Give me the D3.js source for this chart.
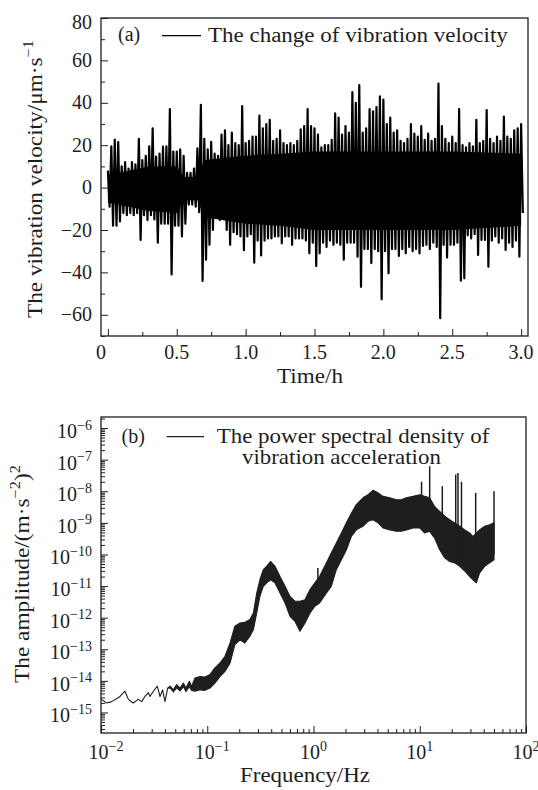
<!DOCTYPE html>
<html>
<head>
<meta charset="utf-8">
<script src="https://cdn.jsdelivr.net/npm/d3@7"></script>
<style>
  body { margin: 0; background: #fff; }
  svg { display: block; }
  text { font-family: "Liberation Serif", "Times New Roman", serif; fill: #1e1e1e; }
</style>
</head>
<body>
<div class="chart"></div>
<script>
// ---- (a) vibration velocity: max / min of the trace in each 0.025 h bin
const velTime = [0,.025,.05,.075,.1,.125,.15,.175,.2,.225,.25,.275,.3,.325,.35,.375,.4,.425,.45,.475,
  .5,.525,.55,.575,.6,.625,.65,.675,.7,.725,.75,.775,.8,.825,.85,.875,.9,.925,.95,.975,
  1,1.025,1.05,1.075,1.1,1.125,1.15,1.175,1.2,1.225,1.25,1.275,1.3,1.325,1.35,1.375,1.4,1.425,1.45,1.475,
  1.5,1.525,1.55,1.575,1.6,1.625,1.65,1.675,1.7,1.725,1.75,1.775,1.8,1.825,1.85,1.875,1.9,1.925,1.95,1.975,
  2,2.025,2.05,2.075,2.1,2.125,2.15,2.175,2.2,2.225,2.25,2.275,2.3,2.325,2.35,2.375,2.4,2.425,2.45,2.475,
  2.5,2.525,2.55,2.575,2.6,2.625,2.65,2.675,2.7,2.725,2.75,2.775,2.8,2.825,2.85,2.875,2.9,2.925,2.95,2.975,3]
const velMax = [8,19.5,22.6,21.5,10,12,9,12,11,23, 13,15,19.5,28,14.6,16,19.3,19.5,37,17,
  17,18,15,7,7,9,18.5,39,23,18, 21.6,16,15,25,27,20,26,21,20,38.5,
  21,22,24,24,34,28,30,32,22,23, 27,21,20,21,20,22,27.5,29,37,29,
  28,25,19,20,20,22.5,35,33,25,29, 26,45,40,48.4,26,28,37,36,38,43,
  41.5,30,33,26,27,22,21,23,30,25.5, 24,29,22.5,25.5,22,23,49,29,23,21,
  24,21,37,20,19,21,19.5,32,21,22, 36.6,23,21,24,22,33.5,24,23,27,28, 30]
const velMin = [-9,-18,-18,-16,-12,-13,-12,-13,-12,-24.7, -13,-15.3,-13,-15,-26,-17,-17,-17,-41,-18,
  -18,-23,-17,-8,-8,-9,-11.6,-44,-34,-27, -20,-14,-15.3,-14,-20,-27,-21,-22,-23,-29.5,
  -23,-22,-35.4,-25,-32,-25,-24,-24,-23,-23, -26.3,-23,-23,-27,-24,-24,-24,-25,-31,-26,
  -37,-31,-26,-28,-25,-27,-26,-27,-34,-26, -26,-26,-32.6,-46.8,-29,-29,-35.6,-29,-30,-52.7,
  -30,-40.4,-29,-29,-32.2,-29,-31,-28,-30,-29, -31,-27.5,-27,-29,-26,-28,-61.6,-27,-33,-27,
  -27,-26,-43.9,-42.8,-22.5,-24,-22,-31.8,-24.7,-24.7, -37.3,-25,-23,-26,-24,-29.4,-26,-28,-25,-32.6, -12]
// extent of the solid black core of the trace
const coreTime = [0, 0.15, 0.3, 0.5, 0.55, 0.65, 0.7, 1.0, 1.25, 1.5, 2.0, 2.5, 3.0]
const coreTop = [6, 8, 10, 10, 5, 5, 13, 15, 16, 17, 17, 17, 16]
const coreBottom = [-7, -9, -11, -12, -6, -6, -14, -17, -18, -20, -20, -20, -18]

const timeTicks = [0, 0.5, 1.0, 1.5, 2.0, 2.5, 3.0]
const timeLabels = ['0', '0.5', '1.0', '1.5', '2.0', '2.5', '3.0']
const timeMinor = [0.25, 0.75, 1.25, 1.75, 2.25, 2.75]
const velTicks = [-60, -40, -20, 0, 20, 40, 60, 80]
const velMinor = [-70, -50, -30, -10, 10, 30, 50, 70]

// ---- (b) power spectral density: upper / lower edge of the band
const psdFreq = [0.0101,0.0113,0.0126,0.0140,0.0151,0.0168,0.0181,0.0201,0.0224,0.0242,
  0.0259,0.0279,0.0289,0.0311,0.0339,0.0359,0.0380,0.0400,0.0424,0.0447,
  0.0480,0.0515,0.0555,0.0596,0.0631,0.0678,0.0713,0.0767,0.0855,0.0953,
  0.106,0.118,0.132,0.147,0.164,0.182,0.203,0.226,0.252,0.272,
  0.292,0.313,0.337,0.362,0.395,0.435,0.484,0.540,0.601,0.670,
  0.746,0.832,0.927,1.03,1.14,1.32,1.47,1.64,1.83,2.04,
  2.27,2.53,2.92,3.26,3.63,4.05,4.51,5.21,6.03,6.71,
  7.48,8.65,9.98,11.1,12.4,13.8,15.4,17.2,19.1,21.3,
  23.8,26.5,29.5,31.7,34.1,36.6,40.8,45.5,50.0]
const psdHigh = [2.6e-15,2.0e-15,2.2e-15,2.7e-15,3.2e-15,4.7e-15,2.6e-15,2.0e-15,2.6e-15,2.2e-15,
  3.2e-15,4.2e-15,3.2e-15,4.7e-15,6.8e-15,3.2e-15,5.2e-15,2.2e-15,5.9e-15,6.8e-15,
  5.2e-15,7.6e-15,5.9e-15,8.5e-15,5.9e-15,9.8e-15,6.8e-15,1.23e-14,1.38e-14,1.32e-14,
  1.58e-14,2.57e-14,3.7e-14,6.0e-14,1.58e-13,5.4e-13,6.8e-13,7.1e-13,8.7e-13,1.41e-12,
  6.0e-12,1.58e-11,3.3e-11,4.2e-11,6.0e-11,4.2e-11,2.0e-11,9.8e-12,4.7e-12,3.3e-12,
  3.3e-12,3.7e-12,7.8e-12,1.26e-11,2.0e-11,5.4e-11,1.12e-10,2.3e-10,4.8e-10,1.0e-9,
  2.0e-9,3.8e-9,6.2e-9,7.8e-9,1.07e-8,8.9e-9,6.9e-9,6.2e-9,5.4e-9,5.4e-9,
  6.2e-9,6.9e-9,7.8e-9,6.9e-9,6.2e-9,3.3e-9,2.3e-9,1.62e-9,1.26e-9,1.0e-9,
  7.8e-10,6.0e-10,4.8e-10,3.7e-10,4.8e-10,6.0e-10,7.8e-10,8.7e-10,1.0e-9]
const psdLow = [2.6e-15,2.0e-15,2.2e-15,2.7e-15,3.2e-15,4.7e-15,2.6e-15,2.0e-15,2.6e-15,2.2e-15,
  3.2e-15,4.2e-15,3.2e-15,4.7e-15,6.8e-15,3.2e-15,5.2e-15,2.2e-15,5.9e-15,6.0e-15,
  4.5e-15,6.0e-15,4.8e-15,6.5e-15,4.6e-15,6.5e-15,5.0e-15,4.7e-15,5.2e-15,5.0e-15,
  5.9e-15,8.5e-15,1.38e-14,2.0e-14,3.7e-14,1.41e-13,2.0e-13,1.58e-13,2.6e-13,4.2e-13,
  1.41e-12,4.7e-12,9.8e-12,1.26e-11,1.58e-11,1.26e-11,6.0e-12,2.9e-12,1.1e-12,7.6e-13,
  3.7e-13,6.8e-13,1.41e-12,2.3e-12,2.9e-12,6.0e-12,9.8e-12,3.3e-11,6.8e-11,1.41e-10,
  3.7e-10,6.0e-10,7.8e-10,1.12e-9,1.26e-9,1.0e-9,6.9e-10,6.0e-10,5.4e-10,5.4e-10,
  6.0e-10,6.9e-10,6.9e-10,4.8e-10,5.4e-10,3.3e-10,1.41e-10,7.8e-11,6.0e-11,5.4e-11,
  4.2e-11,3.0e-11,2.0e-11,1.58e-11,1.26e-11,2.6e-11,4.2e-11,5.4e-11,6.8e-11]
// narrow lines standing out of the band
const spikeFreq = [1.10, 10.4, 12.4, 16.3, 21.8, 22.9, 24.7, 33.6, 50.0]
const spikeTop = [3.7e-11, 2.0e-8, 6.2e-8, 1.45e-8, 3.4e-8, 3.8e-8, 2.0e-8, 8.9e-9, 1.0e-8]
const spikeBase = [6e-12, 7e-10, 6e-10, 2e-10, 6e-11, 6e-11, 5e-11, 2e-11, 1e-10]

const freqTicks = [0.01, 0.1, 1, 10, 100]
const freqExp = [-2, -1, 0, 1, 2]
const ampExp = [-15, -14, -13, -12, -11, -10, -9, -8, -7, -6]

const ink = '#1e1e1e'

const svg = d3.select('.chart')
  .append('svg')
    .attr('width', 538)
    .attr('height', 790)

// text with optional superscripts, stretched to a given length
const addText = (parent, o) => {
  const size = o.size || 20
  const g = parent.append('g')
  const t = g.append('text')
    .attr('text-anchor', o.anchor || 'start')
    .style('font-size', size + 'px')
  let raised = false
  o.parts.forEach((p) => {
    const sup = typeof p === 'object'
    const s = t.append('tspan').text(sup ? p.sup : p)
    if (sup) {
      s.style('font-size', (size * 0.7) + 'px')
      if (!raised) s.attr('dy', -size * 0.42)
      raised = true
    } else if (raised) {
      s.attr('dy', size * 0.42)
      raised = false
    }
  })
  const k = o.length ? o.length / t.node().getComputedTextLength() : 1
  g.attr('transform', `translate(${o.x},${o.y}) rotate(${o.rotate || 0}) scale(${k},1)`)
  return g
}

const tickAxis = (g, axis) => {
  g.call(axis)
  g.select('.domain').remove()
  g.selectAll('line').attr('stroke', ink).attr('stroke-width', 1)
}

// ================= panel (a)
const xA = d3.scaleLinear().domain([-0.05, 3.05]).range([101, 528])
const yA = d3.scaleLinear().domain([-70, 80]).range([336, 18])

const pa = svg.append('g')

pa.append('path')
  .attr('d', d3.area()
    .x((d, i) => xA(coreTime[i]))
    .y0((d, i) => yA(coreBottom[i]))
    .y1((d, i) => yA(coreTop[i]))(coreTime))
  .attr('fill', '#000')

// dense trace: up to the bin maximum, then down to the bin minimum half a bin later
const halfBin = (velTime[1] - velTime[0]) / 2
const trace = []
velTime.forEach((t, i) => {
  trace.push([xA(t), yA(velMax[i])])
  trace.push([xA(t + halfBin), yA(velMin[i])])
})

pa.append('path')
  .attr('d', d3.line()(trace))
  .attr('fill', 'none')
  .attr('stroke', '#000')
  .attr('stroke-width', 2.2)
  .attr('stroke-linejoin', 'round')

tickAxis(pa.append('g').attr('transform', 'translate(0,336)'),
  d3.axisBottom(xA).tickValues(timeTicks).tickSize(-7).tickFormat(''))
tickAxis(pa.append('g').attr('transform', 'translate(0,336)'),
  d3.axisBottom(xA).tickValues(timeMinor).tickSize(-4).tickFormat(''))
tickAxis(pa.append('g').attr('transform', 'translate(101,0)'),
  d3.axisLeft(yA).tickValues(velTicks).tickSize(-7).tickFormat(''))
tickAxis(pa.append('g').attr('transform', 'translate(101,0)'),
  d3.axisLeft(yA).tickValues(velMinor).tickSize(-4).tickFormat(''))

pa.append('rect')
  .attr('x', xA.range()[0]).attr('y', yA.range()[1])
  .attr('width', xA.range()[1] - xA.range()[0])
  .attr('height', yA.range()[0] - yA.range()[1])
  .attr('fill', 'none').attr('stroke', ink).attr('stroke-width', 1.3)

timeTicks.forEach((v, i) => {
  addText(pa, { x: xA(v) + (v === 0 ? -7 : 0), y: 359, anchor: 'middle', parts: [timeLabels[i]] })
})
velTicks.forEach((v) => {
  addText(pa, { x: 92, y: yA(v) + 6.5 + (v === 80 ? 4 : 0), anchor: 'end',
    parts: [v < 0 ? '\u2212' + Math.abs(v) : String(v)] })
})

addText(pa, { x: 277, y: 382.5, parts: ['Time/h'], length: 66 })
addText(pa, { x: 41.5, y: 318, rotate: -90,
  parts: ['The vibration velocity/\u03bcm\u00b7s', { sup: '\u22121' }], length: 278 })

addText(pa, { x: 118, y: 41, parts: ['(a)'] })
pa.append('line')
  .attr('x1', 162).attr('x2', 201).attr('y1', 35.7).attr('y2', 35.7)
  .attr('stroke', '#000').attr('stroke-width', 1.3)
addText(pa, { x: 208, y: 42, parts: ['The change of vibration velocity'], length: 300 })

// ================= panel (b)
const xB = d3.scaleLog().domain([0.01, 100]).range([101, 526])
const yB = d3.scaleLog().domain([Math.pow(10, -15.65), Math.pow(10, -5.65)]).range([733, 417])

const pb = svg.append('g')

const psdArea = d3.area()
  .x((d, i) => xB(psdFreq[i]))
  .y0((d, i) => yB(psdLow[i]))
  .y1((d, i) => yB(psdHigh[i]))

pb.append('path')
  .attr('d', psdArea(psdFreq))
  .attr('fill', ink)
  .attr('stroke', ink)
  .attr('stroke-width', 1.1)
  .attr('stroke-linejoin', 'round')

pb.selectAll('line.spike')
  .data(spikeFreq)
  .enter()
  .append('line')
    .classed('spike', true)
    .attr('x1', (d) => xB(d)).attr('x2', (d) => xB(d))
    .attr('y1', (d, i) => yB(spikeBase[i]))
    .attr('y2', (d, i) => yB(spikeTop[i]))
    .attr('stroke', ink)
    .attr('stroke-width', 1.5)

// log minor ticks 2..9 of every decade inside the domain
const minorLog = (scale, e0, e1) => {
  const out = []
  const [lo, hi] = scale.domain()
  for (let e = e0; e <= e1; e++) {
    for (let m = 2; m <= 9; m++) {
      const v = m * Math.pow(10, e)
      if (v > lo && v < hi) out.push(v)
    }
  }
  return out
}
const ampTicks = ampExp.map((e) => Math.pow(10, e))

tickAxis(pb.append('g').attr('transform', 'translate(0,733)'),
  d3.axisBottom(xB).tickValues(freqTicks).tickSize(-7).tickFormat(''))
tickAxis(pb.append('g').attr('transform', 'translate(0,733)'),
  d3.axisBottom(xB).tickValues(minorLog(xB, -2, 1)).tickSize(-4).tickFormat(''))
tickAxis(pb.append('g').attr('transform', 'translate(101,0)'),
  d3.axisLeft(yB).tickValues(ampTicks).tickSize(-7).tickFormat(''))
tickAxis(pb.append('g').attr('transform', 'translate(101,0)'),
  d3.axisLeft(yB).tickValues(minorLog(yB, -16, -6)).tickSize(-4).tickFormat(''))

pb.append('rect')
  .attr('x', xB.range()[0]).attr('y', yB.range()[1])
  .attr('width', xB.range()[1] - xB.range()[0])
  .attr('height', yB.range()[0] - yB.range()[1])
  .attr('fill', 'none').attr('stroke', ink).attr('stroke-width', 1.3)

freqTicks.forEach((v, i) => {
  const e = freqExp[i]
  addText(pb, { x: xB(v) + (e < 0 ? 5 : 0), y: 759, anchor: 'middle',
    parts: ['10', { sup: (e < 0 ? '\u2212' : '') + Math.abs(e) }] })
})
ampExp.forEach((e, i) => {
  addText(pb, { x: 92, y: yB(ampTicks[i]) + 10, anchor: 'end',
    parts: ['10', { sup: '\u2212' + Math.abs(e) }] })
})

addText(pb, { x: 240, y: 782, parts: ['Frequency/Hz'], length: 130 })
addText(pb, { x: 28.5, y: 683, rotate: -90,
  parts: ['The amplitude/(m\u00b7s', { sup: '\u22122' }, ')', { sup: '2' }], length: 218 })

addText(pb, { x: 121.5, y: 443, parts: ['(b)'] })
pb.append('line')
  .attr('x1', 166.7).attr('x2', 204).attr('y1', 436.7).attr('y2', 436.7)
  .attr('stroke', ink).attr('stroke-width', 1.3)
addText(pb, { x: 216.7, y: 443, parts: ['The power spectral density of'], length: 273 })
addText(pb, { x: 242, y: 464, parts: ['vibration acceleration'], length: 199 })
</script>
</body>
</html>
